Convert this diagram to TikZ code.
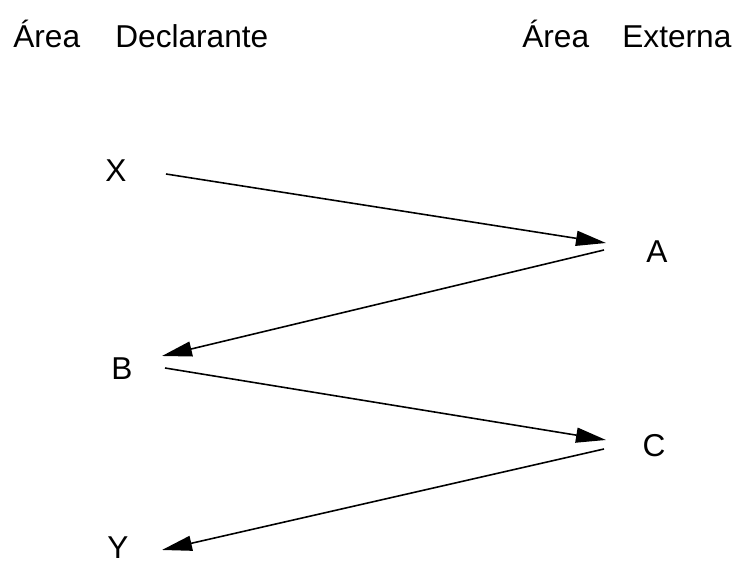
\documentclass[tikz,border=0pt]{standalone}
\usepackage{fontspec}
\setmainfont{Liberation Sans}
\usetikzlibrary{arrows.meta}

\tikzset{
  lbl/.style={font=\fontsize{18}{20}\selectfont, inner sep=0pt, anchor=base},
  head/.style={lbl, anchor=base west},
  flow/.style={-{Triangle[length=6mm,width=3mm]}, line width=0.9pt}
}

\begin{document}
\begin{tikzpicture}[x=0.02cm, y=-0.02cm]
        \useasboundingbox (0,0) rectangle (745,563);

        \node[head] (areaD) at (13,48) {Área};
        \node[head] (decl) at (115,48) {Declarante};
        \node[head] (areaE) at (522,48) {Área};
        \node[head] (ext) at (622,48) {Externa};

        \coordinate (xs) at (166,174);
        \coordinate (at) at (606,243);
        \coordinate (as) at (604,250);
        \coordinate (bt) at (162,356);
        \coordinate (bs) at (165,368);
        \coordinate (ct) at (606,440);
        \coordinate (cs) at (604,449);
        \coordinate (yt) at (162,550);

        \node[lbl] (nodeX) at (116,182) {X};
        \node[lbl] (nodeA) at (657,263) {A};
        \node[lbl] (nodeB) at (122,380) {B};
        \node[lbl] (nodeC) at (654,457) {C};
        \node[lbl] (nodeY) at (118,559) {Y};

        \draw[flow] (xs) -- (at);
        \draw[flow] (as) -- (bt);
        \draw[flow] (bs) -- (ct);
        \draw[flow] (cs) -- (yt);
\end{tikzpicture}
\end{document}
